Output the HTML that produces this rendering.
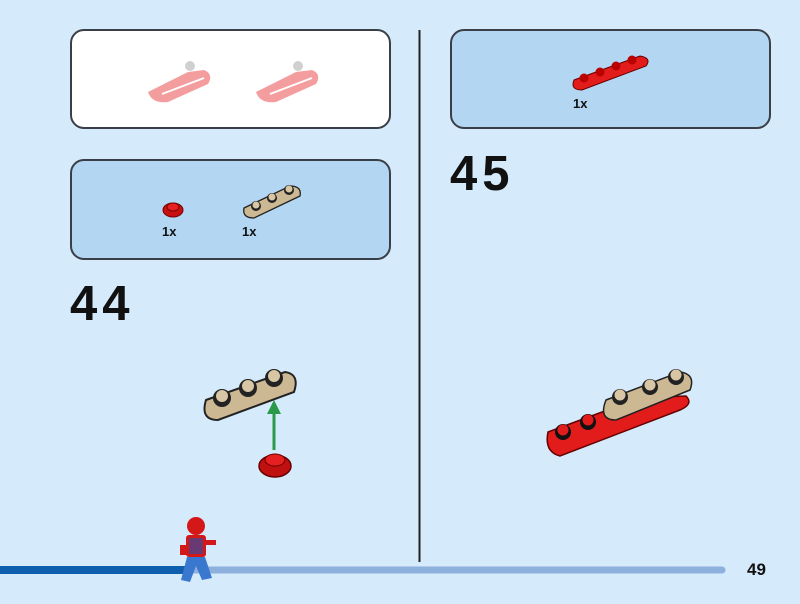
<!DOCTYPE html>
<html><head><style>
html,body{margin:0;padding:0;background:#d5eafb;}
svg{display:block;}
text{font-family:"Liberation Sans",sans-serif;font-weight:bold;fill:#111;}
</style></head><body>
<svg width="800" height="604" viewBox="0 0 800 604" xmlns="http://www.w3.org/2000/svg">
<rect width="800" height="604" fill="#d5eafb"/>
<rect x="71" y="30" width="319" height="98" rx="13" fill="#ffffff" stroke="#3a3f47" stroke-width="2"/>
<rect x="71" y="160" width="319" height="99" rx="13" fill="#b3d6f2" stroke="#3a3f47" stroke-width="2"/>
<rect x="451" y="30" width="319" height="98" rx="13" fill="#b3d6f2" stroke="#3a3f47" stroke-width="2"/>
<line x1="419.5" y1="30" x2="419.5" y2="562" stroke="#222" stroke-width="2"/>
<g opacity="0.45">
 <g transform="translate(148,62)">
  <path d="M0,30 L40,10 L56,8 Q66,12 60,22 L20,40 Q4,42 0,30Z" fill="#e8282a"/>
  <line x1="14" y1="32" x2="56" y2="16" stroke="#fff" stroke-width="2"/>
  <circle cx="42" cy="4" r="5" fill="#999"/>
 </g>
 <g transform="translate(256,62)">
  <path d="M0,30 L40,10 L56,8 Q66,12 60,22 L20,40 Q4,42 0,30Z" fill="#e8282a"/>
  <line x1="14" y1="32" x2="56" y2="16" stroke="#fff" stroke-width="2"/>
  <circle cx="42" cy="4" r="5" fill="#999"/>
 </g>
</g>
<ellipse cx="173" cy="210" rx="10" ry="7" fill="#c81010" stroke="#700" />
<ellipse cx="173" cy="207" rx="6" ry="4" fill="#e52020" stroke="#700"/>
<path d="M244,208 L290,186 Q302,186 300,196 L254,218 Q242,218 244,208Z" fill="#cdb894" stroke="#222" stroke-width="1.3"/>
<circle cx="256" cy="206" r="5" fill="#222"/><circle cx="256" cy="205" r="3.5" fill="#d8c6a4"/>
<circle cx="272" cy="198" r="5" fill="#222"/><circle cx="272" cy="197" r="3.5" fill="#d8c6a4"/>
<circle cx="289" cy="190" r="5" fill="#222"/><circle cx="289" cy="189" r="3.5" fill="#d8c6a4"/>
<text x="162" y="236" font-size="13">1x</text>
<text x="242" y="236" font-size="13">1x</text>
<path d="M574,80 L640,56 Q652,58 646,66 L582,90 Q570,90 574,80Z" fill="#e21b1b" stroke="#600" stroke-width="1"/>
<circle cx="584" cy="78" r="4.5" fill="#b00"/><circle cx="600" cy="72" r="4.5" fill="#b00"/><circle cx="616" cy="66" r="4.5" fill="#b00"/><circle cx="632" cy="60" r="4.5" fill="#b00"/>
<text x="573" y="108" font-size="13">1x</text>
<text x="70" y="320" font-size="49" letter-spacing="5">44</text>
<text x="450" y="190" font-size="49" letter-spacing="5">45</text>
<path d="M206,400 L285,372 Q300,374 294,392 L218,420 Q200,420 206,400Z" fill="#cdb894" stroke="#222" stroke-width="2"/>
<circle cx="222" cy="398" r="9" fill="#222"/><circle cx="222" cy="396" r="6" fill="#d8c6a4"/>
<circle cx="248" cy="388" r="9" fill="#222"/><circle cx="248" cy="386" r="6" fill="#d8c6a4"/>
<circle cx="274" cy="378" r="9" fill="#222"/><circle cx="274" cy="376" r="6" fill="#d8c6a4"/>
<line x1="274" y1="450" x2="274" y2="410" stroke="#2a9a4a" stroke-width="3"/>
<polygon points="274,400 267,414 281,414" fill="#2a9a4a"/>
<ellipse cx="275" cy="466" rx="16" ry="11" fill="#c01010" stroke="#600" stroke-width="1.5"/>
<ellipse cx="275" cy="460" rx="10" ry="6" fill="#e52020" stroke="#600"/>
<path d="M548,432 L640,398 L686,396 Q694,404 680,410 L560,456 Q544,452 548,432Z" fill="#e21b1b" stroke="#600" stroke-width="1.5"/>
<circle cx="563" cy="432" r="8" fill="#111"/><circle cx="563" cy="430" r="5.5" fill="#e21b1b"/>
<circle cx="588" cy="422" r="8" fill="#111"/><circle cx="588" cy="420" r="5.5" fill="#e21b1b"/>
<path d="M606,400 L680,372 Q696,374 690,390 L616,420 Q598,420 606,400Z" fill="#cdb894" stroke="#222" stroke-width="1.5"/>
<circle cx="620" cy="397" r="8" fill="#222"/><circle cx="620" cy="395" r="5.5" fill="#d8c6a4"/>
<circle cx="650" cy="387" r="8" fill="#222"/><circle cx="650" cy="385" r="5.5" fill="#d8c6a4"/>
<circle cx="676" cy="377" r="8" fill="#222"/><circle cx="676" cy="375" r="5.5" fill="#d8c6a4"/>
<line x1="180" y1="570" x2="722" y2="570" stroke="#8eb0dc" stroke-width="7" stroke-linecap="round"/>
<rect x="0" y="566" width="190" height="8" fill="#0e5fae"/>
<g>
 <circle cx="196" cy="526" r="9" fill="#d41818"/>
 <rect x="186" y="535" width="20" height="22" rx="3" fill="#d41818"/>
 <rect x="189" y="538" width="14" height="16" fill="#2050b0" opacity="0.6"/>
 <rect x="206" y="540" width="10" height="5" fill="#d41818"/>
 <rect x="180" y="545" width="8" height="10" fill="#d41818"/>
 <path d="M187,557 L181,580 L190,582 L196,566 L202,580 L212,578 L205,557Z" fill="#3a78d0"/>
</g>
<text x="747" y="575" font-size="17">49</text>
</svg>
</body></html>
